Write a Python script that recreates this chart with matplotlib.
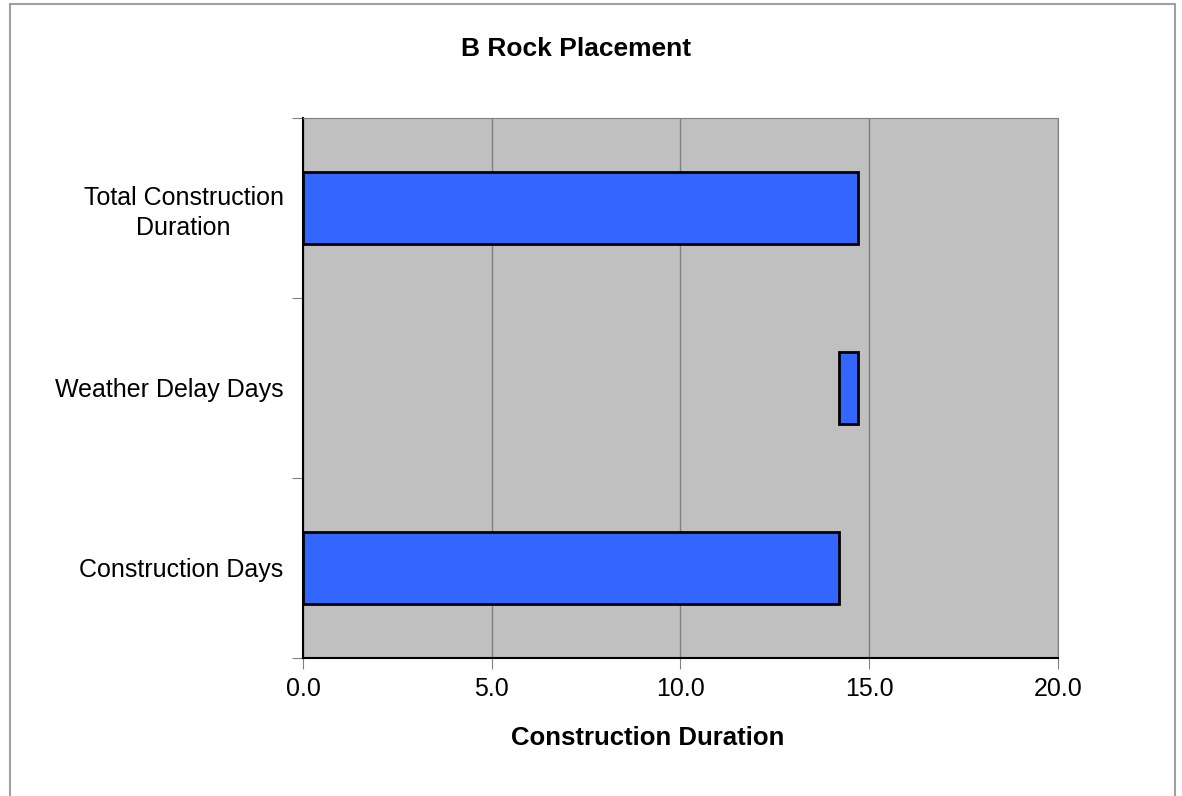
import matplotlib.pyplot as plt
from matplotlib.patches import Rectangle

plt.rcParams['font.family'] = ['Liberation Sans', 'DejaVu Sans']

categories = ['Construction Days', 'Weather Delay Days', 'Total Construction\nDuration']
bar_start = [0.0, 14.2, 0.0]
bar_length = [14.2, 0.5, 14.7]
x_ticks = [0, 5, 10, 15, 20]


def main():
    fig = plt.figure(figsize=(11.82, 7.96), dpi=100)
    ax = fig.add_axes([0.2563, 0.1734, 0.6388, 0.6784])
    ax.set_facecolor('#C0C0C0')

    y = range(len(categories))
    ax.barh(y, bar_length, left=bar_start, height=0.4, color='#3366FF',
            edgecolor='black', linewidth=2, zorder=3)

    ax.set_xlim(0, 20)
    ax.set_ylim(-0.5, len(categories) - 0.5)
    ax.set_xticks(x_ticks)
    ax.set_xticklabels([f'{t:.1f}' for t in x_ticks], fontsize=18)
    ax.xaxis.grid(True, color='#808080', linewidth=1, zorder=0)
    ax.tick_params(axis='x', length=8, color='#808080', pad=6)

    # category boundaries get the tick marks, labels sit between them
    ax.set_yticks([i - 0.5 for i in range(len(categories) + 1)])
    ax.set_yticklabels([])
    ax.set_yticks(list(y), minor=True)
    ax.set_yticklabels(categories, minor=True, fontsize=18,
                       multialignment='center', linespacing=1.3)
    ax.tick_params(axis='y', which='major', length=8, color='#808080')
    ax.tick_params(axis='y', which='minor', length=0, pad=14)

    for side in ['top', 'right']:
        ax.spines[side].set_color('#808080')
    for side in ['left', 'bottom']:
        ax.spines[side].set_color('black')
        ax.spines[side].set_linewidth(1.5)

    ax.set_xlabel('Construction Duration', fontsize=18.5, fontweight='bold', labelpad=18)
    ax.xaxis.label.set_x(0.457)
    fig.text(576 / 1182, 1 - 49 / 796, 'B Rock Placement', fontsize=19,
             fontweight='bold', ha='center', va='center')

    fig.patches.append(Rectangle((10 / 1182, -0.05), 1165 / 1182, 1.05 - 4 / 796,
                                 transform=fig.transFigure, fill=False,
                                 edgecolor='#A0A0A0', linewidth=1.5))

    fig.savefig('out.png', dpi=100)


if __name__ == "__main__":
    main()
